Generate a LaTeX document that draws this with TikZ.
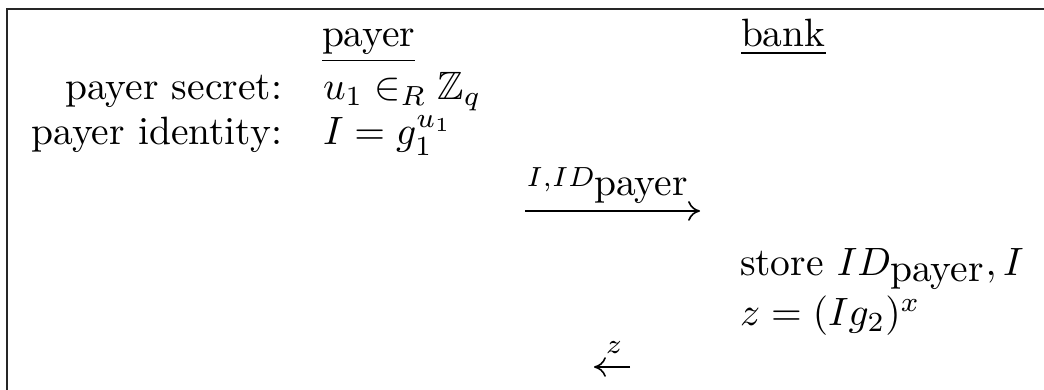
\documentclass[tikz,border=0pt]{standalone}
\usepackage{amsmath,amssymb}
\usetikzlibrary{arrows.meta}
\begin{document}
\begin{tikzpicture}[x=0.253pt,y=-0.253pt,
  txt/.style={inner sep=0pt,outer sep=0pt},
  frame/.style={line width=0.5pt,draw=black!85},
  msg/.style={line width=0.4pt,-{Computer Modern Rightarrow[length=3pt,width=5pt]}}]
\useasboundingbox (0,0) rectangle (1044,390);
\coordinate (ftl) at (7,9);
\coordinate (ftr) at (1044,9);
\coordinate (fbl) at (7,390);
\draw[frame] (ftr) -- (ftl) -- (fbl);
% headers
\node[txt,anchor=base west] (hpayer) at (322,47) {\underline{payer}};
\node[txt,anchor=base west] (hbank) at (741,47) {\underline{bank}};
% rows
\node[txt,anchor=base east] (lsec) at (282,100) {payer secret:};
\node[txt,anchor=base west] (vsec) at (323,100) {$u_1 \in_R \mathbb{Z}_q$};
\node[txt,anchor=base east] (lid) at (282,145) {payer identity:};
\node[txt,anchor=base west] (vid) at (323,145) {$I = g_1^{u_1}$};
% message 1
\coordinate (m1s) at (525,211);
\coordinate (m1e) at (700,211);
\draw[msg] (m1s) -- (m1e);
\node[txt,anchor=base] (m1l) at (608,187) {$\scriptstyle I,ID_{\mbox{payer}}$};
% bank
\node[txt,anchor=base west] (bstore) at (740,276) {store $ID_{\mbox{payer}}, I$};
\node[txt,anchor=base west] (bz) at (740,326) {$z = (Ig_2)^x$};
% message 2
\coordinate (m2s) at (630,367);
\coordinate (m2e) at (594,367);
\draw[msg] (m2s) -- (m2e);
\node[txt,anchor=base] (m2l) at (614,354) {$\scriptstyle z$};
\end{tikzpicture}
\end{document}
